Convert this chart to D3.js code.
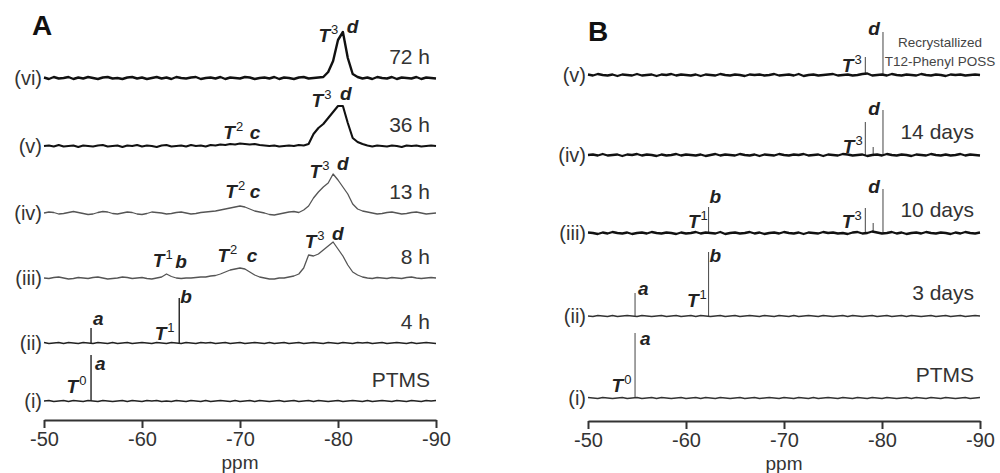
<!DOCTYPE html>
<html>
<head>
<meta charset="utf-8">
<script src="https://cdn.jsdelivr.net/npm/d3@7"></script>
<style>
  body { margin: 0; background: #fff; }
  svg { display: block; font-family: 'Liberation Sans', Arial, sans-serif; }
</style>
</head>
<body>
<div id="chart"></div>
<script>
// ---------- data ----------
// every trace is sampled from -50 to -90 ppm in 0.5 ppm steps (81 points), intensity in a.u.
const ppmStart = -50
const ppmStep = -0.5

const axisTicks = [-50, -55, -60, -65, -70, -75, -80, -85, -90]
const majorTicks = [-50, -60, -70, -80, -90]

// Panel A, bottom (i) to top (vi)
const traceA1 = [0,1,-1,0,1,-1,1,0,-1,1, 0,-1,1,0,-1,0,1,-1,1,0, -1,1,0,1,-1,0,-1,1,0,-1, 1,0,-1,1,-1,0,1,0,-1,1, -1,0,1,-1,1,0,-1,0,1,-1, 0,1,-1,0,1,-1,1,0,-1,0, 1,-1,0,1,0,-1,1,-1,0,1, 0,-1,1,0,-1,1,0,-1,1,0, 1]
const traceA2 = [1,-1,0,1,-1,1,0,-1,1,0, -1,1,0,-1,1,-1,0,1,-1,0, 1,0,-1,1,0,-1,1,0,-1,1, 0,-1,1,0,1,-1,0,1,-1,0, 1,-1,0,1,0,-1,1,-1,0,1, -1,0,1,-1,0,1,0,-1,1,0, -1,1,0,-1,1,0,1,-1,0,1, -1,0,1,0,-1,1,-1,0,1,0, -1]
const traceA3 = [0,-1,1,2,0,-2,-1,1,0,-1, 1,2,0,-2,-1,0,2,1,-1,0, 1,-1,-2,0,2,8,3,0,-1,0, 0,1,2,2,4,5,8,12,16,18, 20,18,12,6,2,0,-2,-2,0,0, 2,4,8,20,46,44,48,56,64,72, 58,44,26,12,6,2,0,-1,1,0, -1,1,0,-1,1,2,0,-1,0,1, 0]
const traceA4 = [0,2,1,-2,-1,1,3,1,-1,-3, -2,1,3,2,-1,-2,0,2,1,-2, -3,-1,2,1,0,-2,-1,1,2,0, -2,-1,1,2,3,4,6,8,10,12, 14,12,8,4,2,0,-3,-4,-2,0, 2,3,1,6,14,30,42,52,60,78, 66,52,38,18,8,4,2,0,-2,-1, 1,2,0,-2,-1,1,2,0,-2,-1, 0]
const traceA5 = [0,1,-1,2,-1,0,1,-2,1,0, -1,1,2,-1,0,1,-2,1,0,2, -1,1,0,-2,1,2,-1,0,1,-1, 2,0,1,-1,2,1,3,2,4,3, 5,4,3,4,2,1,0,1,-1,0, 1,0,2,1,4,24,36,44,56,68, 80,80,46,16,8,4,1,-1,1,0, -1,1,0,-2,1,0,1,-1,0,1, 0]
const traceA6 = [1,-2,2,-1,0,2,-2,1,-1,2, 0,-2,1,2,-1,0,-2,1,2,-1, 1,-2,0,2,-1,1,-2,2,0,-1, 1,2,-2,0,1,-1,2,-2,1,0, -1,2,1,-2,0,1,-1,2,-2,1, 0,-2,1,2,-1,0,1,2,12,34, 76,92,40,8,2,-1,1,-2,2,0, -1,2,-2,1,0,-1,2,-2,1,0, -1]

// Panel B, bottom (i) to top (v)
const traceB1 = [1,0,-1,1,0,-1,0,1,-1,0, 1,-1,0,1,-1,1,0,-1,0,1, -1,0,1,-1,1,0,-1,1,0,-1, 0,1,-1,0,1,-1,0,1,0,-1, 1,0,-1,1,0,-1,1,-1,0,1, 0,-1,1,0,-1,1,0,-1,1,0, -1,1,0,-1,0,1,-1,1,0,-1, 1,0,-1,1,0,-1,0,1,-1,0, 1]
const traceB2 = [0,-1,1,0,-1,1,-1,0,1,0, -1,1,0,-1,0,1,-1,0,1,-1, 0,1,-1,1,0,-1,0,1,-1,0, 1,-1,0,1,0,-1,1,0,-1,1, 0,-1,1,-1,0,1,0,-1,1,0, -1,0,1,-1,1,0,-1,0,1,-1, 0,1,-1,0,1,-1,1,0,-1,0, 1,-1,0,1,-1,0,1,-1,0,1, 0]
const traceB3 = [1,0,-2,1,-1,2,0,-1,1,-2, 0,1,-1,2,0,-1,1,0,-2,1, -1,0,2,-1,1,0,-1,2,-2,0, 1,-1,0,2,-1,1,-2,0,1,-1, 2,0,-1,1,-2,1,0,-1,2,0, 1,-1,0,-2,1,2,-1,0,3,1, -1,0,2,-1,1,-2,0,1,-1,2, 0,-1,1,0,-2,1,-1,2,0,-1, 1]
const traceB4 = [0,1,-1,2,-1,0,1,-2,1,0, 2,-1,1,0,-2,1,-1,0,2,-1, 1,0,-1,1,-2,0,2,-1,1,0, -1,2,0,-1,1,-2,1,0,-1,2, 0,-1,1,0,2,-1,0,1,-2,1, 0,-1,2,1,-1,0,1,-2,0,1, -1,2,0,-1,1,0,-2,1,0,-1, 2,0,-1,1,-1,0,2,-1,1,0, -1]
const traceB5 = [1,-1,2,0,-1,1,-2,1,0,-1, 2,-1,0,1,-2,1,0,2,-1,1, 0,-1,1,-2,1,0,-1,2,0,-1, 1,0,-2,1,0,1,-1,0,2,-1, 0,1,-1,2,-2,0,1,-1,0,1, 2,-1,0,1,-1,0,2,3,-1,0, 1,-1,2,0,-1,1,0,-1,2,0, -1,1,0,-2,1,0,1,-1,0,1, 0]

// sharp resonances [ppm, intensity]
const sticksA1 = [[-54.8, 92]]
const sticksA2 = [[-54.8, 30], [-63.8, 90]]
const sticksB1 = [[-54.8, 130]]
const sticksB2 = [[-54.8, 46], [-62.3, 128]]
const sticksB3 = [[-62.3, 52], [-78.3, 50], [-79.1, 20], [-80.1, 88]]
const sticksB4 = [[-78.3, 66], [-79.1, 16], [-80.1, 90]]
const sticksB5 = [[-78.3, 36], [-80.1, 86]]

// vertical stacking offsets (a.u.)
const offsetsA = [38, 154, 284, 414, 548, 684]
const offsetsB = [46, 210, 376, 532, 692]

const romanA = ['(i)', '(ii)', '(iii)', '(iv)', '(v)', '(vi)']
const romanB = ['(i)', '(ii)', '(iii)', '(iv)', '(v)']
const timesA = ['PTMS', '4 h', '8 h', '13 h', '36 h', '72 h']
const timesB = ['PTMS', '3 days', '10 days', '14 days', '']
const noteB = ['Recrystallized', 'T12-Phenyl POSS']

// peak assignments: [row, ppm, intensity, letter, superscript]
const peaksA = [
  [0, -52.3, 16, 'T', '0'], [0, -55.2, 62, 'a'],
  [1, -55.0, 36, 'a'], [1, -61.3, 6, 'T', '1'], [1, -63.9, 80, 'b'],
  [2, -61.1, 22, 'T', '1'], [2, -63.4, 20, 'b'], [2, -67.7, 32, 'T', '2'], [2, -70.7, 32, 'c'],
  [2, -76.6, 60, 'T', '3'], [2, -79.4, 76, 'd'],
  [3, -68.5, 30, 'T', '2'], [3, -71.0, 30, 'c'], [3, -77.1, 70, 'T', '3'], [3, -79.9, 86, 'd'],
  [4, -68.3, 14, 'T', '2'], [4, -71.0, 14, 'c'], [4, -77.3, 78, 'T', '3'], [4, -80.2, 92, 'd'],
  [5, -78.0, 72, 'T', '3'], [5, -80.9, 90, 'd']
]
const peaksB = [
  [0, -52.4, 12, 'T', '0'], [0, -55.3, 106, 'a'],
  [1, -55.1, 42, 'a'], [1, -60.1, 18, 'T', '1'], [1, -62.4, 108, 'b'],
  [2, -60.2, 10, 'T', '1'], [2, -62.4, 60, 'b'], [2, -75.9, 10, 'T', '3'], [2, -78.6, 80, 'd'],
  [3, -76.0, 4, 'T', '3'], [3, -78.6, 80, 'd'],
  [4, -75.9, 6, 'T', '3'], [4, -78.6, 80, 'd']
]

// ---------- drawing ----------
const W = 1000, H = 473
const svg = d3.select('#chart').append('svg')
  .attr('width', W)
  .attr('height', H)

svg.append('rect').attr('width', W).attr('height', H).attr('fill', '#fff')

const textColor = '#222'

function drawPanel(cfg) {
  const x = d3.scaleLinear().domain([-50, -90]).range(cfg.xRange)
  // 1 a.u. = 0.5 px
  const y = d3.scaleLinear().domain([0, 800]).range([cfg.axisY, cfg.axisY - 400])
  const g = svg.append('g')

  // panel letter
  g.append('text')
    .attr('x', cfg.letterPos[0])
    .attr('y', cfg.letterPos[1])
    .attr('font-size', 28)
    .attr('font-weight', 'bold')
    .attr('fill', '#111')
    .text(cfg.letter)

  cfg.traces.forEach((trace, row) => {
    const off = cfg.offsets[row]
    const st = cfg.styles[row]

    // sharp lines first, baseline on top
    g.selectAll(null)
      .data(cfg.sticks[row] || [])
      .enter().append('line')
      .attr('x1', d => x(d[0]))
      .attr('x2', d => x(d[0]))
      .attr('y1', y(off))
      .attr('y2', d => y(off + d[1]))
      .attr('stroke', cfg.stickColor)
      .attr('stroke-width', cfg.stickWidth)

    g.append('path')
      .datum(trace)
      .attr('fill', 'none')
      .attr('stroke', st[0])
      .attr('stroke-width', st[1])
      .attr('stroke-linejoin', 'round')
      .attr('d', d3.line()
        .x((d, i) => x(ppmStart + i * ppmStep))
        .y(d => y(off + d)))

    // roman numeral on the left
    g.append('text')
      .attr('x', cfg.xRange[0] - 2)
      .attr('y', y(off) + 7)
      .attr('text-anchor', 'end')
      .attr('font-size', 20)
      .attr('fill', '#333')
      .text(cfg.roman[row])

    // sample label on the right
    g.append('text')
      .attr('x', cfg.xRange[1] - 6)
      .attr('y', y(off) - cfg.labelLift)
      .attr('text-anchor', 'end')
      .attr('font-size', 21)
      .attr('fill', '#333')
      .text(cfg.times[row])
  })

  // peak assignments
  cfg.peaks.forEach(p => {
    const t = g.append('text')
      .attr('x', x(p[1]))
      .attr('y', y(cfg.offsets[p[0]] + p[2]))
      .attr('fill', textColor)
    t.append('tspan')
      .attr('font-size', 19)
      .attr('font-weight', 'bold')
      .attr('font-style', 'italic')
      .text(p[3])
    if (p[4]) {
      t.append('tspan')
        .attr('font-size', 13)
        .attr('dy', -8)
        .attr('dx', 1)
        .text(p[4])
    }
  })

  // axis
  const axisG = g.append('g').attr('transform', 'translate(0,' + cfg.axisY + ')')
  axisG.call(d3.axisBottom(x).tickValues(axisTicks).tickSize(5).tickSizeOuter(0).tickFormat(''))
  axisG.call(d3.axisBottom(x).tickValues(majorTicks).tickSize(8).tickSizeOuter(0).tickPadding(4)
    .tickFormat(d => String(d)))
  axisG.selectAll('path, line').attr('stroke', '#333').attr('stroke-width', 2)
  axisG.selectAll('text')
    .attr('font-size', 20)
    .attr('font-family', "'Liberation Sans', Arial, sans-serif")
    .attr('fill', '#333')

  g.append('text')
    .attr('x', (cfg.xRange[0] + cfg.xRange[1]) / 2)
    .attr('y', cfg.axisY + 49)
    .attr('text-anchor', 'middle')
    .attr('font-size', 19)
    .attr('fill', '#333')
    .text('ppm')

  return { x, y }
}

drawPanel({
  letter: 'A',
  letterPos: [32, 35],
  xRange: [44, 436],
  axisY: 420,
  traces: [traceA1, traceA2, traceA3, traceA4, traceA5, traceA6],
  sticks: [sticksA1, sticksA2],
  offsets: offsetsA,
  styles: [['#222', 1.6], ['#222', 1.6], ['#555', 1.3], ['#555', 1.3], ['#111', 2.1], ['#111', 2.4]],
  stickColor: '#222',
  stickWidth: 1.4,
  roman: romanA,
  times: timesA,
  labelLift: 14,
  peaks: peaksA
})

const panelB = drawPanel({
  letter: 'B',
  letterPos: [588, 41],
  xRange: [588, 980],
  axisY: 421,
  traces: [traceB1, traceB2, traceB3, traceB4, traceB5],
  sticks: [sticksB1, sticksB2, sticksB3, sticksB4, sticksB5],
  offsets: offsetsB,
  styles: [['#333', 1.4], ['#333', 1.4], ['#111', 2.3], ['#111', 2.3], ['#111', 2.3]],
  stickColor: '#555',
  stickWidth: 1.1,
  roman: romanB,
  times: timesB,
  labelLift: 16,
  peaks: peaksB
})

// note for the recrystallized sample
const topB = panelB.y(offsetsB[4])
svg.append('g')
  .selectAll('text')
  .data(noteB)
  .enter().append('text')
  .attr('x', 940)
  .attr('y', (d, i) => topB - 28 + i * 19)
  .attr('text-anchor', 'middle')
  .attr('font-size', 13.5)
  .attr('fill', '#444')
  .text(d => d)
</script>
</body>
</html>
